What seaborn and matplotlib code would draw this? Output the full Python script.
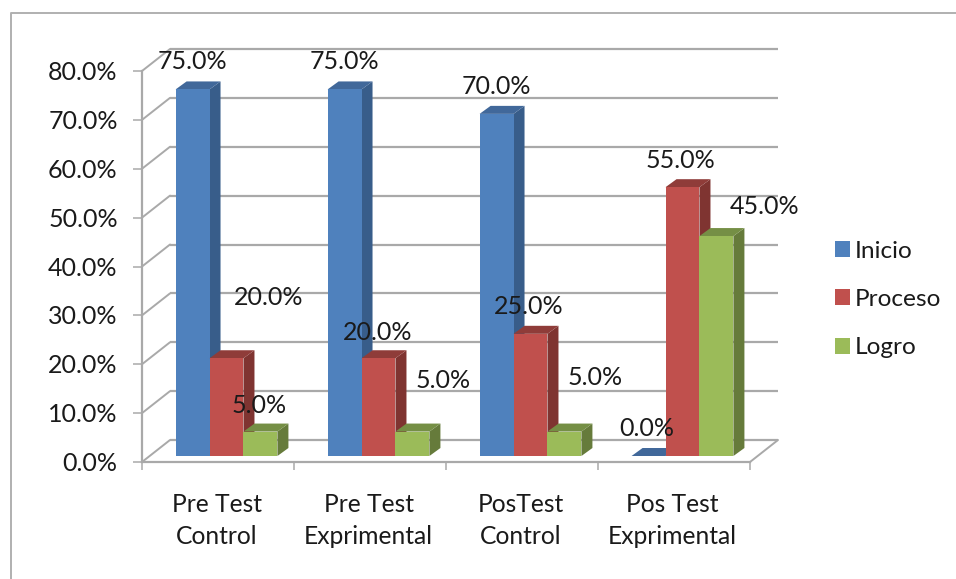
import numpy as np
import pandas as pd
import matplotlib
matplotlib.use("Agg")
import matplotlib.pyplot as plt
from matplotlib.lines import Line2D
from matplotlib.patches import Polygon
from matplotlib.transforms import Affine2D, IdentityTransform
import seaborn as sns

categories = ["Pre Test\nControl", "Pre Test\nExprimental", "PosTest\nControl", "Pos Test\nExprimental"]
inicio = [75.0, 75.0, 70.0, 0.0]
proceso = [20.0, 20.0, 25.0, 55.0]
logro = [5.0, 5.0, 5.0, 45.0]
series_names = ["Inicio", "Proceso", "Logro"]
y_ticks = [0, 10, 20, 30, 40, 50, 60, 70, 80]

W, H = 956, 579
GRAY = "#A9A9A9"
TXT = "#1a1a1a"
FS = 18
palette = {"Inicio": "#4F81BD", "Proceso": "#C0504D", "Logro": "#9BBB59"}
side = {"Inicio": "#385D8A", "Proceso": "#7F3431", "Logro": "#667B3B"}
top = {"Inicio": "#41689A", "Proceso": "#8F3C39", "Logro": "#758F45"}
# label offsets from the top centre of each bar, in pixels
label_offsets = {
    "Inicio": [(0, 28), (0, 28), (0, 27), (-2, 28)],
    "Proceso": [(42, 61), (-1, 26), (-2, 27), (-2, 27)],
    "Logro": [(-1, 26), (31, 51), (31, 54), (48, 29.5)],
}

sns.set_theme(style="white")
plt.rcParams["font.family"] = ["Lato", "DejaVu Sans"]

df = pd.DataFrame({
    "cat": categories * 3,
    "serie": np.repeat(series_names, 4),
    "valor": inicio + proceso + logro,
})

fig = plt.figure(figsize=(W / 100, H / 100), dpi=100)
L, R, Y0, Y80 = 142, 750, 462, 71
ax = fig.add_axes([L / W, 1 - Y0 / H, (R - L) / W, (Y0 - Y80) / H])
ax.patch.set_alpha(0)

sns.barplot(data=df, x="cat", y="valor", hue="serie", hue_order=series_names,
            order=categories, palette=palette, width=0.67, saturation=1,
            linewidth=0, ax=ax, legend=True)
ax.set_xlim(-0.5, 3.5)
ax.set_ylim(0, 80)
ax.set_xlabel("")
ax.set_ylabel("")
fig.canvas.draw()

# back wall and floor, shifted from the front plane
wall_dx, wall_dy = 28, 22
wall = ax.transData + Affine2D().translate(wall_dx, wall_dy)
ax.hlines(y_ticks, -0.5, 3.5, colors=GRAY, linewidth=1.6, transform=wall, clip_on=False, zorder=1)
for v in y_ticks:
    x0, y0 = ax.transData.transform((-0.5, v))
    ax.add_line(Line2D([x0, x0 + wall_dx], [y0, y0 + wall_dy], color=GRAY, lw=1.4,
                       transform=IdentityTransform(), clip_on=False, zorder=1))
x0, y0 = ax.transData.transform((3.5, 0))
ax.add_line(Line2D([x0, x0 + wall_dx], [y0, y0 + wall_dy], color=GRAY, lw=1.4,
                   transform=IdentityTransform(), clip_on=False, zorder=1))

# bars: shifted into the box, with side and top faces
shift_x, shift_y = 8.5, 6
depth_x, depth_y = 11, 8
shift = ax.transData + Affine2D().translate(shift_x, shift_y)
for name, cont in zip(series_names, ax.containers):
    for i, bar in enumerate(cont.patches):
        order = 3 + i + series_names.index(name) * 0.1
        bar.set_transform(shift)
        bar.set_clip_on(False)
        bar.set_zorder(order + 0.02)
        (a, b), (c, d) = shift.transform([(bar.get_x(), 0), (bar.get_x() + bar.get_width(), bar.get_height())])
        ax.add_patch(Polygon([(c, b), (c, d), (c + depth_x, d + depth_y), (c + depth_x, b + depth_y)],
                             closed=True, fc=side[name], ec="none", transform=IdentityTransform(),
                             clip_on=False, zorder=order))
        ax.add_patch(Polygon([(a, d), (c, d), (c + depth_x, d + depth_y), (a + depth_x, d + depth_y)],
                             closed=True, fc=top[name], ec="none", transform=IdentityTransform(),
                             clip_on=False, zorder=order + 0.01))
        dx, dy = label_offsets[name][i]
        ax.annotate(f"{bar.get_height():.1f}%", xy=(bar.get_x() + bar.get_width() / 2, bar.get_height()),
                    xytext=(shift_x + dx, shift_y + dy), textcoords="offset pixels",
                    ha="center", va="center", fontsize=FS, color=TXT, zorder=20, annotation_clip=False)

# axes
sns.despine(ax=ax, top=True, right=True)
for s in ("left", "bottom"):
    ax.spines[s].set_color(GRAY)
    ax.spines[s].set_linewidth(1.6)
    ax.spines[s].set_zorder(2)
ax.set_yticks(y_ticks)
ax.set_yticklabels([f"{v:.1f}%" for v in y_ticks], fontsize=FS, color=TXT)
ax.tick_params(axis="y", length=6.5, width=1.1, color=GRAY, pad=11, left=True)
for lab in ax.get_yticklabels():
    lab.set_transform(lab.get_transform() + Affine2D().translate(0, 0.5))
ax.set_xticks(range(4))
ax.set_xticklabels(categories, fontsize=FS - 0.3, color=TXT, linespacing=1.52)
ax.set_xticks(np.arange(-0.5, 4), minor=True)
ax.tick_params(axis="x", which="major", length=0, pad=22)
ax.tick_params(axis="x", which="minor", length=6, width=1.1, color=GRAY, bottom=True)
for lab in ax.get_xticklabels():
    lab.set_transform(lab.get_transform() + Affine2D().translate(-1.5, 0))

# legend
handles, labels = ax.get_legend_handles_labels()
ax.legend(handles, labels, loc="center left", bbox_to_anchor=(813 / W, 1 - 299.5 / H),
          bbox_transform=fig.transFigure, frameon=False, fontsize=FS - 0.4,
          handlelength=0.62, handleheight=0.62, handletextpad=0.17, labelspacing=1.12,
          labelcolor=TXT)

# chart frame
fig.add_artist(Line2D([10.5 / W, 10.5 / W, 1], [0, 1 - 12.5 / H, 1 - 12.5 / H], color="#B0B0B0", lw=1.4))

fig.savefig("out.png", dpi=100)
